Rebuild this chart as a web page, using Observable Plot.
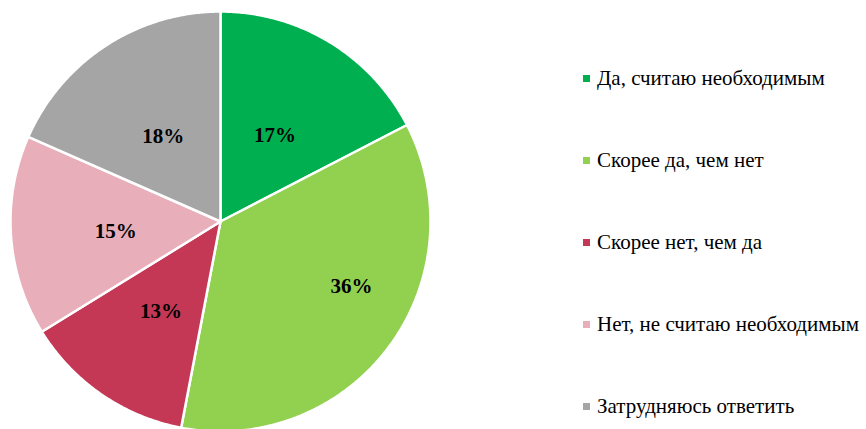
<!DOCTYPE html>
<html>
<head>
<meta charset="utf-8">
<script src="https://cdn.jsdelivr.net/npm/d3@7"></script>
<script src="https://cdn.jsdelivr.net/npm/@observablehq/plot@0.6"></script>
<style>
  html, body { margin: 0; padding: 0; background: #fff; }
  #wrap { position: relative; width: 866px; height: 429px; overflow: hidden; }
  #chart { position: absolute; left: 0; top: 0; }
  #legend { position: absolute; left: 580px; top: 37px; font-family: "Liberation Serif", "Times New Roman", serif; font-size: 21px; color: #000; }
  .item { height: 82px; display: flex; align-items: center; white-space: nowrap; }
  .sw { width: 7px; height: 7px; margin-right: 7px; margin-left: 3px; flex: none; }
</style>
</head>
<body>
<div id="wrap">
  <div id="chart"></div>
  <div id="legend"></div>
</div>
<script>
const categories = ["Да, считаю необходимым", "Скорее да, чем нет", "Скорее нет, чем да", "Нет, не считаю необходимым", "Затрудняюсь ответить"];
const values = [17.4, 35.6, 13.2, 15.4, 18.4];
const labels = ["17%", "36%", "13%", "15%", "18%"];
const colors = ["#00B050", "#92D050", "#C43855", "#E8AEBA", "#A5A5A5"];

// geometry: angles measured clockwise from 12 o'clock, unit radius
const total = d3.sum(values);
const pie = d3.pie().sort(null).value(d => d)(values);
const polys = [];
pie.forEach((s, i) => {
  const c = categories[i];
  polys.push({cat: c, x: 0, y: 0});
  const n = Math.max(2, Math.ceil((s.endAngle - s.startAngle) / (Math.PI / 360)));
  for (let k = 0; k <= n; k++) {
    const a = s.startAngle + (s.endAngle - s.startAngle) * k / n;
    polys.push({cat: c, x: Math.sin(a), y: Math.cos(a)});
  }
  polys.push({cat: c, x: 0, y: 0});
});

const labelPts = pie.map((s, i) => {
  const big = values[i] / total > 0.3;
  const a = (s.startAngle + s.endAngle) / 2 + (big ? -0.2 : 0);
  const r = big ? 0.69 : 0.5;
  return {label: labels[i], x: r * Math.sin(a), y: r * Math.cos(a)};
});

const R = 210;
const plot = Plot.plot({
  width: 440,
  height: 429,
  margin: 0,
  x: {domain: [-220 / R, 220 / R], axis: null},
  y: {domain: [-208 / R, 221 / R], axis: null},
  color: {domain: categories, range: colors},
  marks: [
    Plot.line(polys, {x: "x", y: "y", z: "cat", fill: "cat", stroke: "white", strokeWidth: 2.5, strokeLinejoin: "round", curve: "linear"}),
    Plot.text(labelPts, {x: "x", y: "y", text: "label", fontSize: 21, fontWeight: "bold", fill: "#000", dy: 3, fontFamily: "Liberation Serif"})
  ],
  style: {fontFamily: "Liberation Serif", background: "white"}
});
document.getElementById("chart").appendChild(plot);

const legend = document.getElementById("legend");
categories.forEach((c, i) => {
  const it = document.createElement("div");
  it.className = "item";
  const sw = document.createElement("span");
  sw.className = "sw";
  sw.style.background = colors[i];
  const t = document.createElement("span");
  t.textContent = c;
  it.appendChild(sw);
  it.appendChild(t);
  legend.appendChild(it);
});
</script>
</body>
</html>
